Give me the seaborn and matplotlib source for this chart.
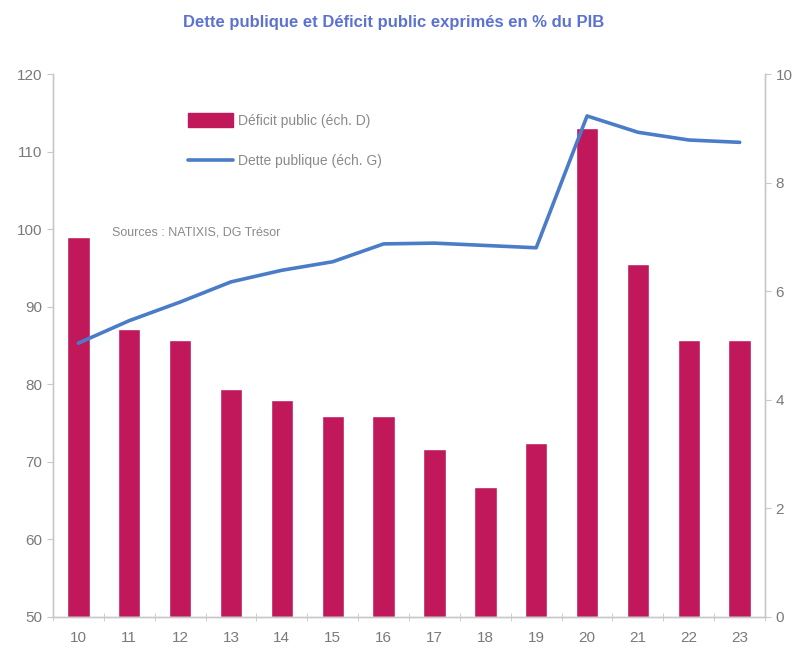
import numpy as np
import pandas as pd
import seaborn as sns
import matplotlib.pyplot as plt
from matplotlib.patches import Patch
from matplotlib.lines import Line2D

annees = ["10", "11", "12", "13", "14", "15", "16", "17", "18", "19", "20", "21", "22", "23"]
deficit = [7.0, 5.3, 5.1, 4.2, 4.0, 3.7, 3.7, 3.1, 2.4, 3.2, 9.0, 6.5, 5.1, 5.1]
dette = [85.3, 88.2, 90.6, 93.2, 94.7, 95.8, 98.1, 98.2, 97.9, 97.6, 114.6, 112.5, 111.5, 111.2]

sns.set_style("white")
plt.rcParams['font.family'] = ['Liberation Sans', 'DejaVu Sans']

df = pd.DataFrame({"annee": annees, "deficit": deficit, "dette": dette, "pos": np.arange(len(annees))})

gris = "#7a7a7a"
gris_axe = "#c8c8c8"
rouge = "#c0185a"
bleu = "#4a7cc8"

fig = plt.figure(figsize=(8.02, 6.5), dpi=100)
ax = fig.add_axes([0.066, 0.051, 0.888, 0.835])
ax2 = ax.twinx()

# barres : deficit, echelle de droite
sns.barplot(data=df, x="pos", y="deficit", ax=ax2, color=rouge, width=0.44,
            saturation=1, native_scale=True)
# ligne : dette, echelle de gauche
sns.lineplot(data=df, x="pos", y="dette", ax=ax, color=bleu, linewidth=2.6)

ax.set_zorder(ax2.get_zorder() + 1)
ax.patch.set_visible(False)

ax.set_xlim(-0.47, 13.47)
ax.set_ylim(50, 120)
ax2.set_ylim(0, 10)
ax.set_yticks(range(50, 121, 10))
ax2.set_yticks(range(0, 11, 2))
ax.set_xticks(df["pos"])
ax.set_xticklabels(annees)
ax.set_xticks(np.arange(-0.5, 13.6, 1), minor=True)
ax.set_xlabel("")
ax.set_ylabel("")
ax2.set_ylabel("")
ax2.set_xlabel("")

for a in (ax, ax2):
    a.spines["top"].set_visible(False)
    for s in ("left", "right", "bottom"):
        a.spines[s].set_color(gris_axe)
        a.spines[s].set_linewidth(1)

ax.tick_params(axis="y", colors=gris_axe, labelcolor=gris, labelsize=11, length=4, direction="out", left=True)
ax2.tick_params(axis="y", colors=gris_axe, labelcolor=gris, labelsize=11, length=4, direction="out", right=True)
ax.tick_params(axis="x", which="major", length=0, labelcolor=gris, labelsize=11, pad=10)
ax.tick_params(axis="x", which="minor", length=6, color=gris_axe, direction="inout", bottom=True)

handles = [Patch(facecolor=rouge, edgecolor=rouge), Line2D([0], [0], color=bleu, linewidth=2.6)]
ax.legend(handles, ["Déficit public (éch. D)", "Dette publique (éch. G)"],
          loc="upper left", bbox_to_anchor=(0.219, 0.845), bbox_transform=fig.transFigure,
          frameon=False, fontsize=10, labelcolor="#8a8a8a", handlelength=3.2, handleheight=1.1,
          labelspacing=1.9, handletextpad=0.4)

fig.text(0.14, 1 - 233 / 650, "Sources : NATIXIS, DG Trésor", fontsize=9, color="#8a8a8a", va="center")
fig.text(0.491, 1 - 22 / 650, "Dette publique et Déficit public exprimés en % du PIB",
         ha="center", va="center", fontsize=12, fontweight="bold", color="#5b72d2")

fig.savefig("out.png", dpi=100)
